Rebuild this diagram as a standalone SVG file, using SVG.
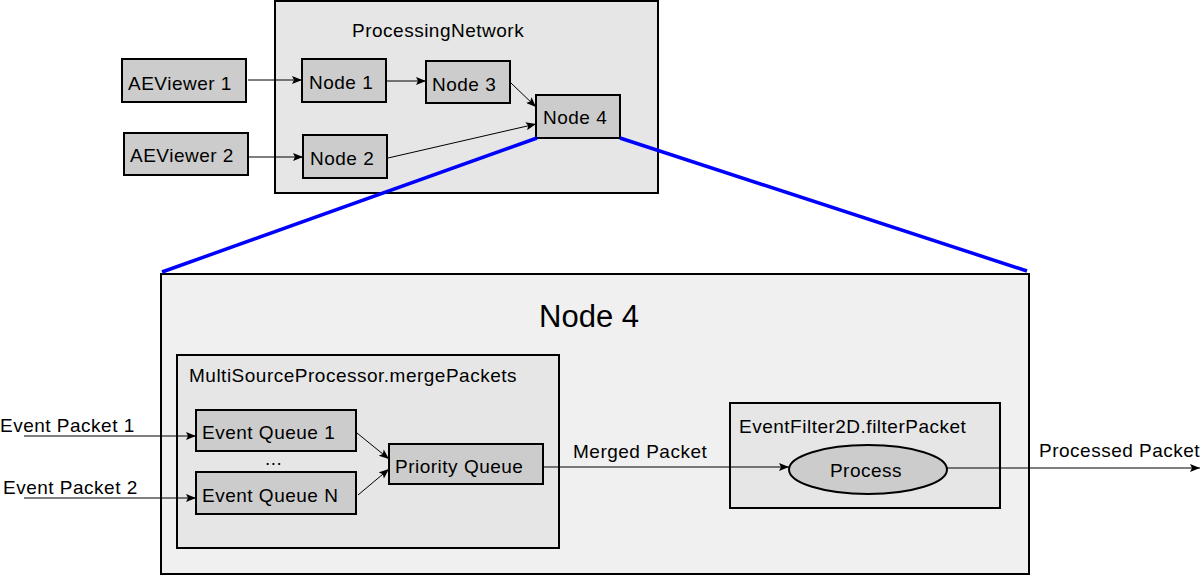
<svg xmlns="http://www.w3.org/2000/svg" width="1201" height="576" viewBox="0 0 1201 576">
<defs>
<style>
text{font-family:"Liberation Sans",Arial,sans-serif;font-size:19px;letter-spacing:0.5px;fill:#000}
.box{stroke:#000;stroke-width:2}
.node{fill:#cccccc}
.grp{fill:#e6e6e6}
.big{fill:#f0f0f0}
.conn{stroke:#000;stroke-width:1;fill:none;marker-end:url(#arr)}
.zoom{stroke:#0000ff;stroke-width:3.5;fill:none}
</style>
<marker id="arr" viewBox="0 0 10 8" refX="10" refY="4" markerWidth="11" markerHeight="8" markerUnits="userSpaceOnUse" orient="auto">
<path d="M0,0 L10,4 L0,8 L2,4 Z" fill="#000"/>
</marker>
</defs>
<rect width="1201" height="576" fill="#fff"/>
<g id="processing-network">
<rect class="box grp" x="275" y="1" width="383" height="192"/>
<text x="352" y="37">ProcessingNetwork</text>
</g>
<g id="node4-detail">
<rect class="box big" x="161" y="274" width="868" height="300"/>
<text x="589" y="327" text-anchor="middle" style="font-size:31px;letter-spacing:0">Node 4</text>
</g>
<g id="merge-group">
<rect class="box grp" x="177" y="355" width="382" height="193"/>
<text x="189" y="382">MultiSourceProcessor.mergePackets</text>
</g>
<g id="filter-group">
<rect class="box grp" x="730" y="403" width="270" height="105"/>
<text x="739" y="433">EventFilter2D.filterPacket</text>
</g>
<g id="aeviewer1">
<rect class="box node" x="122" y="59" width="124" height="43"/>
<text x="128" y="90">AEViewer 1</text>
</g>
<g id="aeviewer2">
<rect class="box node" x="124" y="133" width="124" height="42"/>
<text x="130" y="162">AEViewer 2</text>
</g>
<g id="node1">
<rect class="box node" x="302" y="59" width="84" height="43"/>
<text x="309" y="89">Node 1</text>
</g>
<g id="node2">
<rect class="box node" x="303" y="135" width="84" height="43"/>
<text x="310" y="165">Node 2</text>
</g>
<g id="node3">
<rect class="box node" x="426" y="61" width="84" height="42"/>
<text x="432" y="91">Node 3</text>
</g>
<g id="node4">
<rect class="box node" x="536" y="95" width="84" height="43"/>
<text x="543" y="124">Node 4</text>
</g>
<g id="event-queue-1">
<rect class="box node" x="196" y="410" width="160" height="41"/>
<text x="202" y="439">Event Queue 1</text>
</g>
<g id="ellipsis">
<text x="265" y="465">...</text>
</g>
<g id="event-queue-n">
<rect class="box node" x="196" y="472" width="160" height="42"/>
<text x="202" y="502">Event Queue N</text>
</g>
<g id="priority-queue">
<rect class="box node" x="389" y="444" width="154" height="40"/>
<text x="395" y="473">Priority Queue</text>
</g>
<g id="process">
<ellipse class="box node" cx="868" cy="469.5" rx="79" ry="24.5"/>
<text x="866" y="477" text-anchor="middle">Process</text>
</g>
<g id="labels">
<text x="0" y="432">Event Packet 1</text>
<text x="3" y="494">Event Packet 2</text>
<text x="573" y="458">Merged Packet</text>
<text x="1039" y="457">Processed Packet</text>
</g>
<g id="connectors">
<path class="zoom" d="M537,138 L162,272"/>
<path class="zoom" d="M620,138 L1027,271"/>
<path class="conn" d="M248,80 L302,80"/>
<path class="conn" d="M386,81 L426,81"/>
<path class="conn" d="M511,83 L536,107"/>
<path class="conn" d="M388,158 L536,124"/>
<path class="conn" d="M249,157 L303,157"/>
<path class="conn" d="M24,436 L196,436"/>
<path class="conn" d="M24,498 L196,498"/>
<path class="conn" d="M357,433 L389,459"/>
<path class="conn" d="M358,495 L389,469"/>
<path class="conn" d="M543,467 L789,467"/>
<path class="conn" d="M947,468 L1200,468"/>
</g>
</svg>
